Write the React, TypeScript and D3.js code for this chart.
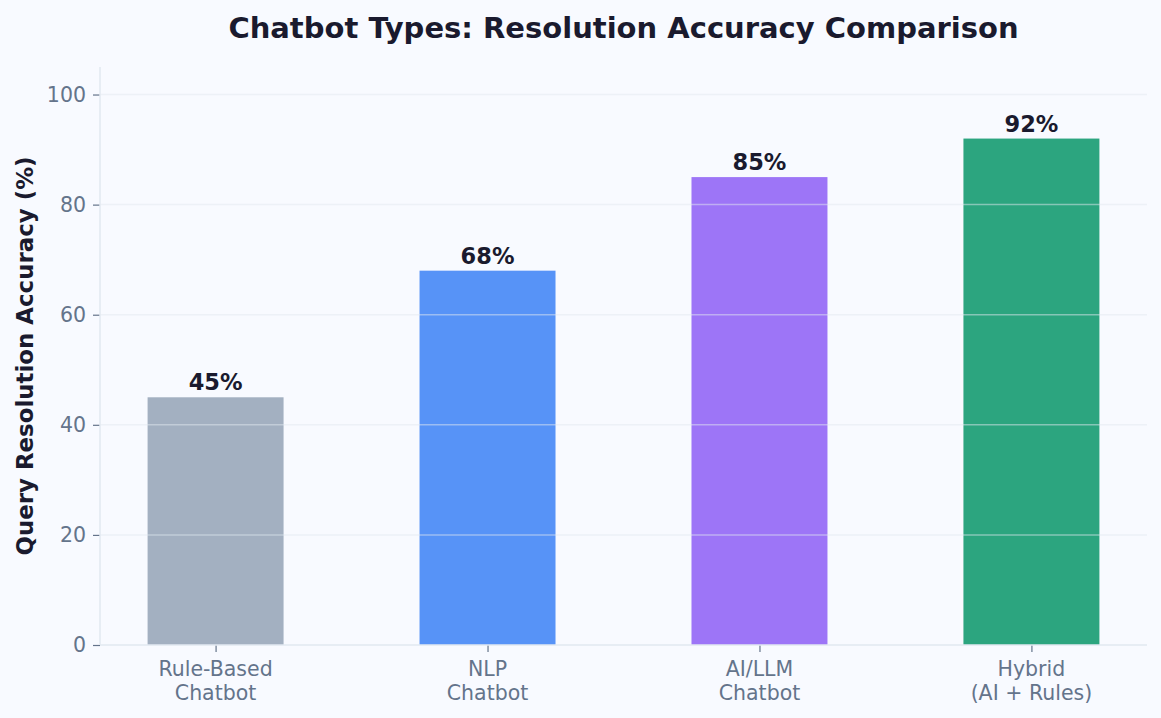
import { useEffect, useRef } from 'react';
import * as d3 from 'd3';

const categories = ['Rule-Based\nChatbot', 'NLP\nChatbot', 'AI/LLM\nChatbot', 'Hybrid\n(AI + Rules)'];
const accuracy = [45, 68, 85, 92];
const barColors = ['#a3b0c1', '#5793f7', '#9d75f7', '#2ca57f'];
const yTicks = [0, 20, 40, 60, 80, 100];

const W = 1161;
const H = 718;
const FONT = 'DejaVu Sans, sans-serif';

export default function App() {
  const svgRef = useRef<SVGSVGElement>(null);

  useEffect(() => {
    if (!svgRef.current) return;
    const svg = d3.select(svgRef.current);
    svg.selectAll('*').remove();

    const margin = { left: 100, right: 14, top: 67, bottom: 73 };
    const x0 = margin.left;
    const x1 = W - margin.right;
    const yBottom = H - margin.bottom;

    // matplotlib-style categorical axis: bars at 0..n-1, width 0.5, 5% margins
    const n = categories.length;
    const barW = 0.5;
    const span = (n - 1) + barW;
    const pad = span * 0.05;
    const xScale = d3.scaleLinear()
      .domain([-barW / 2 - pad, n - 1 + barW / 2 + pad])
      .range([x0, x1]);

    const yScale = d3.scaleLinear()
      .domain([0, 105])
      .range([yBottom, margin.top]);

    svg.append('rect')
      .attr('width', W)
      .attr('height', H)
      .attr('fill', '#f8faff');

    // title
    svg.append('text')
      .attr('x', (x0 + x1) / 2)
      .attr('y', 38)
      .attr('text-anchor', 'middle')
      .attr('fill', '#1a1a2e')
      .attr('font-family', FONT)
      .attr('font-size', '29px')
      .attr('font-weight', 'bold')
      .text('Chatbot Types: Resolution Accuracy Comparison');

    // bars
    svg.append('g')
      .selectAll('rect')
      .data(accuracy)
      .join('rect')
      .attr('x', (_d, i) => xScale(i - barW / 2))
      .attr('width', (_d, i) => xScale(i + barW / 2) - xScale(i - barW / 2))
      .attr('y', d => yScale(d))
      .attr('height', d => yBottom - yScale(d))
      .attr('fill', (_d, i) => barColors[i]);

    // grid drawn above the bars
    svg.append('g')
      .selectAll('line')
      .data(yTicks.filter(t => t > 0))
      .join('line')
      .attr('x1', x0)
      .attr('x2', x1)
      .attr('y1', d => yScale(d))
      .attr('y2', d => yScale(d))
      .attr('stroke', '#e2e8f0')
      .attr('stroke-opacity', 0.5)
      .attr('stroke-width', 1.5);

    // value labels
    svg.append('g')
      .selectAll('text')
      .data(accuracy)
      .join('text')
      .attr('x', (_d, i) => xScale(i))
      .attr('y', d => yScale(d) - 7)
      .attr('text-anchor', 'middle')
      .attr('fill', '#1a1a2e')
      .attr('font-family', FONT)
      .attr('font-size', '22.5px')
      .attr('font-weight', 'bold')
      .text(d => `${d}%`);

    // y axis
    const yAxis = d3.axisLeft(yScale)
      .tickValues(yTicks)
      .tickSize(7)
      .tickPadding(7)
      .tickFormat(d => `${d}`);
    const gy = svg.append('g')
      .attr('transform', `translate(${x0},0)`)
      .call(yAxis);
    gy.select('.domain').remove();
    gy.selectAll('.tick line').attr('stroke', '#64748b').attr('stroke-width', 1.2);
    gy.selectAll('.tick text')
      .attr('fill', '#64748b')
      .attr('font-family', FONT)
      .attr('font-size', '20.5px');

    // x axis
    const xAxis = d3.axisBottom(xScale)
      .tickValues(d3.range(n))
      .tickSize(7)
      .tickFormat(() => '');
    const gx = svg.append('g')
      .attr('transform', `translate(0,${yBottom})`)
      .call(xAxis);
    gx.select('.domain').remove();
    gx.selectAll('.tick line').attr('stroke', '#64748b').attr('stroke-width', 1.2);

    const xl = svg.append('g')
      .selectAll('text')
      .data(categories)
      .join('text')
      .attr('x', (_d, i) => xScale(i))
      .attr('y', yBottom + 31)
      .attr('text-anchor', 'middle')
      .attr('fill', '#64748b')
      .attr('font-family', FONT)
      .attr('font-size', '20.5px');
    xl.each(function (d) {
      const t = d3.select(this);
      const xPos = t.attr('x');
      d.split('\n').forEach((line, k) => {
        t.append('tspan')
          .attr('x', xPos)
          .attr('dy', k === 0 ? 0 : 24)
          .text(line);
      });
    });

    // spines
    svg.append('line')
      .attr('x1', x0).attr('x2', x0)
      .attr('y1', margin.top).attr('y2', yBottom)
      .attr('stroke', '#e2e8f0').attr('stroke-width', 1.5);
    svg.append('line')
      .attr('x1', x0).attr('x2', x1)
      .attr('y1', yBottom).attr('y2', yBottom)
      .attr('stroke', '#e2e8f0').attr('stroke-width', 1.5);

    // y label
    svg.append('text')
      .attr('transform', `translate(33,${(margin.top + yBottom) / 2}) rotate(-90)`)
      .attr('text-anchor', 'middle')
      .attr('fill', '#1a1a2e')
      .attr('font-family', FONT)
      .attr('font-size', '22.9px')
      .attr('font-weight', 'bold')
      .text('Query Resolution Accuracy (%)');
  }, []);

  return (
    <div style={{ position: 'fixed', left: 0, top: 0 }}>
      <svg ref={svgRef} width={W} height={H} style={{ display: 'block' }} />
    </div>
  );
}
